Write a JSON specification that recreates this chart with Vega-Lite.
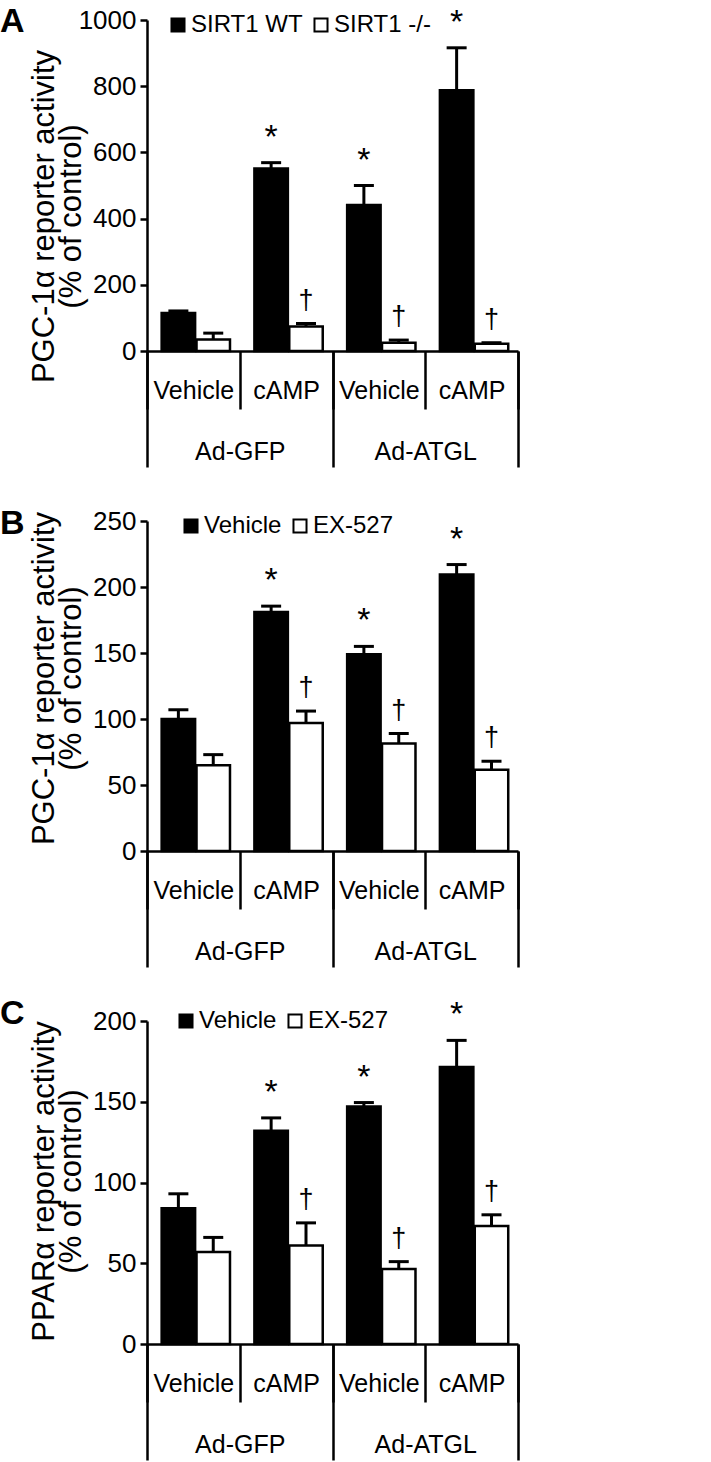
{
  "$schema": "https://vega.github.io/schema/vega-lite/v6.json",
  "background": "white",
  "padding": {"left": 0, "top": 4, "right": 5, "bottom": 2},
  "config": {"view": {"stroke": null}, "font": "Liberation Sans", "axis": {"grid": false}},
  "datasets": {
    "A": [
      {"adeno": "Ad-GFP", "grp": "Ad-GFP|Vehicle", "series": "SIRT1 WT", "value": 115, "upper": 121, "sig": ""},
      {"adeno": "Ad-GFP", "grp": "Ad-GFP|Vehicle", "series": "SIRT1 -/-", "value": 35, "upper": 54, "sig": ""},
      {"adeno": "Ad-GFP", "grp": "Ad-GFP|cAMP", "series": "SIRT1 WT", "value": 551, "upper": 569, "sig": "*"},
      {"adeno": "Ad-GFP", "grp": "Ad-GFP|cAMP", "series": "SIRT1 -/-", "value": 74, "upper": 83, "sig": "†"},
      {"adeno": "Ad-ATGL", "grp": "Ad-ATGL|Vehicle", "series": "SIRT1 WT", "value": 441, "upper": 500, "sig": "*"},
      {"adeno": "Ad-ATGL", "grp": "Ad-ATGL|Vehicle", "series": "SIRT1 -/-", "value": 25, "upper": 33, "sig": "†"},
      {"adeno": "Ad-ATGL", "grp": "Ad-ATGL|cAMP", "series": "SIRT1 WT", "value": 788, "upper": 916, "sig": "*"},
      {"adeno": "Ad-ATGL", "grp": "Ad-ATGL|cAMP", "series": "SIRT1 -/-", "value": 22, "upper": 25, "sig": "†"}
    ],
    "B": [
      {"adeno": "Ad-GFP", "grp": "Ad-GFP|Vehicle", "series": "Vehicle", "value": 100, "upper": 107, "sig": ""},
      {"adeno": "Ad-GFP", "grp": "Ad-GFP|Vehicle", "series": "EX-527", "value": 65, "upper": 73, "sig": ""},
      {"adeno": "Ad-GFP", "grp": "Ad-GFP|cAMP", "series": "Vehicle", "value": 181, "upper": 185.5, "sig": "*"},
      {"adeno": "Ad-GFP", "grp": "Ad-GFP|cAMP", "series": "EX-527", "value": 97, "upper": 106, "sig": "†"},
      {"adeno": "Ad-ATGL", "grp": "Ad-ATGL|Vehicle", "series": "Vehicle", "value": 149, "upper": 155, "sig": "*"},
      {"adeno": "Ad-ATGL", "grp": "Ad-ATGL|Vehicle", "series": "EX-527", "value": 81.5, "upper": 89, "sig": "†"},
      {"adeno": "Ad-ATGL", "grp": "Ad-ATGL|cAMP", "series": "Vehicle", "value": 209.5, "upper": 217, "sig": "*"},
      {"adeno": "Ad-ATGL", "grp": "Ad-ATGL|cAMP", "series": "EX-527", "value": 61.5, "upper": 68, "sig": "†"}
    ],
    "C": [
      {"adeno": "Ad-GFP", "grp": "Ad-GFP|Vehicle", "series": "Vehicle", "value": 84, "upper": 93, "sig": ""},
      {"adeno": "Ad-GFP", "grp": "Ad-GFP|Vehicle", "series": "EX-527", "value": 57, "upper": 66, "sig": ""},
      {"adeno": "Ad-GFP", "grp": "Ad-GFP|cAMP", "series": "Vehicle", "value": 132, "upper": 140, "sig": "*"},
      {"adeno": "Ad-GFP", "grp": "Ad-GFP|cAMP", "series": "EX-527", "value": 61, "upper": 75, "sig": "†"},
      {"adeno": "Ad-ATGL", "grp": "Ad-ATGL|Vehicle", "series": "Vehicle", "value": 147, "upper": 149.5, "sig": "*"},
      {"adeno": "Ad-ATGL", "grp": "Ad-ATGL|Vehicle", "series": "EX-527", "value": 46.5, "upper": 51, "sig": "†"},
      {"adeno": "Ad-ATGL", "grp": "Ad-ATGL|cAMP", "series": "Vehicle", "value": 171.5, "upper": 188, "sig": "*"},
      {"adeno": "Ad-ATGL", "grp": "Ad-ATGL|cAMP", "series": "EX-527", "value": 73, "upper": 80, "sig": "†"}
    ]
  },
  "spacing": 170,
  "bounds": "flush",
  "resolve": {
    "scale": {"x": "independent", "y": "independent", "xOffset": "independent", "fill": "independent"},
    "axis": {"x": "independent", "y": "independent"},
    "legend": {"fill": "independent"}
  },
  "vconcat": [
    {
      "title": {"text": "A", "anchor": "start", "frame": "group", "dx": -147, "offset": -33, "fontSize": 34, "fontWeight": "bold", "font": "Liberation Sans", "color": "black"},
      "width": 371, "height": 331,
      "data": {"name": "A"},
      "resolve": {"scale": {"x": "independent"}, "axis": {"x": "independent"}},
      "layer": [
        {
          "layer": [
            {
              "mark": {"type": "bar", "stroke": "black", "strokeWidth": 2.5},
              "encoding": {
                "x": {"field": "grp", "type": "nominal", "sort": null, "scale": {"type": "band", "paddingInner": 0, "paddingOuter": 0},
                  "axis": {"orient": "bottom", "title": null, "domain": true, "domainColor": "black", "domainWidth": 2.5, "ticks": true, "tickBand": "extent", "tickSize": 58, "tickWidth": 2.5, "tickColor": "black", "labelExpr": "split(datum.value, '|')[1]", "labelFont": "Liberation Sans", "labelFontSize": 25, "labelColor": "black", "labelBaseline": "middle", "labelPadding": -19, "labelAngle": 0, "labelFlush": false, "labelOverlap": false}},
                "xOffset": {"field": "series", "type": "nominal", "sort": null, "scale": {"paddingInner": 0.04, "paddingOuter": 0.35, "align": 0.6}},
                "y": {"field": "value", "type": "quantitative", "scale": {"domain": [0, 1000], "nice": false},
                  "axis": {"title": ["PGC-1α reporter activity", "(% of control)"], "values": [0, 200, 400, 600, 800, 1000], "format": "d", "domain": true, "domainColor": "black", "domainWidth": 2.5, "ticks": true, "tickSize": 7, "tickWidth": 2.5, "tickColor": "black", "labelFont": "Liberation Sans", "labelFontSize": 26, "labelColor": "black", "labelPadding": 4, "labelOverlap": false, "titleFont": "Liberation Sans", "titleFontSize": 31, "titleFontWeight": "normal", "titleColor": "black", "titleLineHeight": 27, "titleX": -87, "titleY": 196, "titleAngle": -90, "titleBaseline": "bottom", "titleAlign": "center"}},
                "fill": {"field": "series", "type": "nominal", "sort": null, "scale": {"domain": ["SIRT1 WT", "SIRT1 -/-"], "range": ["black", "white"]},
                  "legend": {"title": null, "orient": "none", "legendX": 19, "legendY": -7, "direction": "horizontal", "symbolType": "square", "symbolSize": 170, "symbolStrokeColor": "black", "symbolStrokeWidth": 2, "labelFont": "Liberation Sans", "labelFontSize": 24, "labelColor": "black", "labelOffset": 1, "columnPadding": 6, "padding": 0}}
              }
            },
            {
              "mark": {"type": "rule", "strokeWidth": 3, "color": "black"},
              "encoding": {
                "x": {"field": "grp", "type": "nominal", "sort": null},
                "xOffset": {"field": "series", "type": "nominal", "sort": null},
                "y": {"field": "value", "type": "quantitative"},
                "y2": {"field": "upper"}
              }
            },
            {
              "mark": {"type": "tick", "thickness": 3, "size": 20, "color": "black", "opacity": 1},
              "encoding": {
                "x": {"field": "grp", "type": "nominal", "sort": null},
                "xOffset": {"field": "series", "type": "nominal", "sort": null},
                "y": {"field": "upper", "type": "quantitative"}
              }
            },
            {
              "transform": [{"filter": "datum.series === 'SIRT1 WT'"}],
              "mark": {"type": "text", "font": "Liberation Sans", "fontSize": 34, "color": "black", "baseline": "alphabetic", "dy": -15},
              "encoding": {
                "x": {"field": "grp", "type": "nominal", "sort": null},
                "xOffset": {"field": "series", "type": "nominal", "sort": null},
                "y": {"field": "upper", "type": "quantitative"},
                "text": {"field": "sig"}
              }
            },
            {
              "transform": [{"filter": "datum.series === 'SIRT1 -/-'"}],
              "mark": {"type": "text", "font": "Liberation Sans", "fontSize": 27, "color": "black", "baseline": "alphabetic", "dy": -15},
              "encoding": {
                "x": {"field": "grp", "type": "nominal", "sort": null},
                "xOffset": {"field": "series", "type": "nominal", "sort": null},
                "y": {"field": "upper", "type": "quantitative"},
                "text": {"field": "sig"}
              }
            }
          ]
        },
        {
          "mark": {"type": "text", "opacity": 0},
          "encoding": {
            "x": {"field": "adeno", "type": "nominal", "sort": null, "scale": {"type": "band", "paddingInner": 0, "paddingOuter": 0},
              "axis": {"orient": "bottom", "title": null, "domain": false, "ticks": true, "tickBand": "extent", "tickSize": 116, "tickWidth": 2.5, "tickColor": "black", "labelFont": "Liberation Sans", "labelFontSize": 25, "labelColor": "black", "labelBaseline": "middle", "labelPadding": -16, "labelAngle": 0, "labelFlush": false, "labelOverlap": false}},
            "text": {"value": ""}
          }
        }
      ]
    },
    {
      "title": {"text": "B", "anchor": "start", "frame": "group", "dx": -147, "offset": -33, "fontSize": 34, "fontWeight": "bold", "font": "Liberation Sans", "color": "black"},
      "width": 371, "height": 330,
      "data": {"name": "B"},
      "resolve": {"scale": {"x": "independent"}, "axis": {"x": "independent"}},
      "layer": [
        {
          "layer": [
            {
              "mark": {"type": "bar", "stroke": "black", "strokeWidth": 2.5},
              "encoding": {
                "x": {"field": "grp", "type": "nominal", "sort": null, "scale": {"type": "band", "paddingInner": 0, "paddingOuter": 0},
                  "axis": {"orient": "bottom", "title": null, "domain": true, "domainColor": "black", "domainWidth": 2.5, "ticks": true, "tickBand": "extent", "tickSize": 58, "tickWidth": 2.5, "tickColor": "black", "labelExpr": "split(datum.value, '|')[1]", "labelFont": "Liberation Sans", "labelFontSize": 25, "labelColor": "black", "labelBaseline": "middle", "labelPadding": -19, "labelAngle": 0, "labelFlush": false, "labelOverlap": false}},
                "xOffset": {"field": "series", "type": "nominal", "sort": null, "scale": {"paddingInner": 0.04, "paddingOuter": 0.35, "align": 0.6}},
                "y": {"field": "value", "type": "quantitative", "scale": {"domain": [0, 250], "nice": false},
                  "axis": {"title": ["PGC-1α reporter activity", "(% of control)"], "values": [0, 50, 100, 150, 200, 250], "format": "d", "domain": true, "domainColor": "black", "domainWidth": 2.5, "ticks": true, "tickSize": 7, "tickWidth": 2.5, "tickColor": "black", "labelFont": "Liberation Sans", "labelFontSize": 26, "labelColor": "black", "labelPadding": 4, "labelOverlap": false, "titleFont": "Liberation Sans", "titleFontSize": 31, "titleFontWeight": "normal", "titleColor": "black", "titleLineHeight": 27, "titleX": -87, "titleY": 157, "titleAngle": -90, "titleBaseline": "bottom", "titleAlign": "center"}},
                "fill": {"field": "series", "type": "nominal", "sort": null, "scale": {"domain": ["Vehicle", "EX-527"], "range": ["black", "white"]},
                  "legend": {"title": null, "orient": "none", "legendX": 32, "legendY": -7, "direction": "horizontal", "symbolType": "square", "symbolSize": 170, "symbolStrokeColor": "black", "symbolStrokeWidth": 2, "labelFont": "Liberation Sans", "labelFontSize": 24, "labelColor": "black", "labelOffset": 1, "columnPadding": 6, "padding": 0}}
              }
            },
            {
              "mark": {"type": "rule", "strokeWidth": 3, "color": "black"},
              "encoding": {
                "x": {"field": "grp", "type": "nominal", "sort": null},
                "xOffset": {"field": "series", "type": "nominal", "sort": null},
                "y": {"field": "value", "type": "quantitative"},
                "y2": {"field": "upper"}
              }
            },
            {
              "mark": {"type": "tick", "thickness": 3, "size": 20, "color": "black", "opacity": 1},
              "encoding": {
                "x": {"field": "grp", "type": "nominal", "sort": null},
                "xOffset": {"field": "series", "type": "nominal", "sort": null},
                "y": {"field": "upper", "type": "quantitative"}
              }
            },
            {
              "transform": [{"filter": "datum.series === 'Vehicle'"}],
              "mark": {"type": "text", "font": "Liberation Sans", "fontSize": 34, "color": "black", "baseline": "alphabetic", "dy": -15},
              "encoding": {
                "x": {"field": "grp", "type": "nominal", "sort": null},
                "xOffset": {"field": "series", "type": "nominal", "sort": null},
                "y": {"field": "upper", "type": "quantitative"},
                "text": {"field": "sig"}
              }
            },
            {
              "transform": [{"filter": "datum.series === 'EX-527'"}],
              "mark": {"type": "text", "font": "Liberation Sans", "fontSize": 27, "color": "black", "baseline": "alphabetic", "dy": -15},
              "encoding": {
                "x": {"field": "grp", "type": "nominal", "sort": null},
                "xOffset": {"field": "series", "type": "nominal", "sort": null},
                "y": {"field": "upper", "type": "quantitative"},
                "text": {"field": "sig"}
              }
            }
          ]
        },
        {
          "mark": {"type": "text", "opacity": 0},
          "encoding": {
            "x": {"field": "adeno", "type": "nominal", "sort": null, "scale": {"type": "band", "paddingInner": 0, "paddingOuter": 0},
              "axis": {"orient": "bottom", "title": null, "domain": false, "ticks": true, "tickBand": "extent", "tickSize": 116, "tickWidth": 2.5, "tickColor": "black", "labelFont": "Liberation Sans", "labelFontSize": 25, "labelColor": "black", "labelBaseline": "middle", "labelPadding": -16, "labelAngle": 0, "labelFlush": false, "labelOverlap": false}},
            "text": {"value": ""}
          }
        }
      ]
    },
    {
      "title": {"text": "C", "anchor": "start", "frame": "group", "dx": -147, "offset": -33, "fontSize": 34, "fontWeight": "bold", "font": "Liberation Sans", "color": "black"},
      "width": 371, "height": 323,
      "data": {"name": "C"},
      "resolve": {"scale": {"x": "independent"}, "axis": {"x": "independent"}},
      "layer": [
        {
          "layer": [
            {
              "mark": {"type": "bar", "stroke": "black", "strokeWidth": 2.5},
              "encoding": {
                "x": {"field": "grp", "type": "nominal", "sort": null, "scale": {"type": "band", "paddingInner": 0, "paddingOuter": 0},
                  "axis": {"orient": "bottom", "title": null, "domain": true, "domainColor": "black", "domainWidth": 2.5, "ticks": true, "tickBand": "extent", "tickSize": 58, "tickWidth": 2.5, "tickColor": "black", "labelExpr": "split(datum.value, '|')[1]", "labelFont": "Liberation Sans", "labelFontSize": 25, "labelColor": "black", "labelBaseline": "middle", "labelPadding": -19, "labelAngle": 0, "labelFlush": false, "labelOverlap": false}},
                "xOffset": {"field": "series", "type": "nominal", "sort": null, "scale": {"paddingInner": 0.04, "paddingOuter": 0.35, "align": 0.6}},
                "y": {"field": "value", "type": "quantitative", "scale": {"domain": [0, 200], "nice": false},
                  "axis": {"title": ["PPARα reporter activity", "(% of control)"], "values": [0, 50, 100, 150, 200], "format": "d", "domain": true, "domainColor": "black", "domainWidth": 2.5, "ticks": true, "tickSize": 7, "tickWidth": 2.5, "tickColor": "black", "labelFont": "Liberation Sans", "labelFontSize": 26, "labelColor": "black", "labelPadding": 4, "labelOverlap": false, "titleFont": "Liberation Sans", "titleFontSize": 31, "titleFontWeight": "normal", "titleColor": "black", "titleLineHeight": 27, "titleX": -87, "titleY": 160, "titleAngle": -90, "titleBaseline": "bottom", "titleAlign": "center"}},
                "fill": {"field": "series", "type": "nominal", "sort": null, "scale": {"domain": ["Vehicle", "EX-527"], "range": ["black", "white"]},
                  "legend": {"title": null, "orient": "none", "legendX": 27, "legendY": -12, "direction": "horizontal", "symbolType": "square", "symbolSize": 170, "symbolStrokeColor": "black", "symbolStrokeWidth": 2, "labelFont": "Liberation Sans", "labelFontSize": 24, "labelColor": "black", "labelOffset": 1, "columnPadding": 6, "padding": 0}}
              }
            },
            {
              "mark": {"type": "rule", "strokeWidth": 3, "color": "black"},
              "encoding": {
                "x": {"field": "grp", "type": "nominal", "sort": null},
                "xOffset": {"field": "series", "type": "nominal", "sort": null},
                "y": {"field": "value", "type": "quantitative"},
                "y2": {"field": "upper"}
              }
            },
            {
              "mark": {"type": "tick", "thickness": 3, "size": 20, "color": "black", "opacity": 1},
              "encoding": {
                "x": {"field": "grp", "type": "nominal", "sort": null},
                "xOffset": {"field": "series", "type": "nominal", "sort": null},
                "y": {"field": "upper", "type": "quantitative"}
              }
            },
            {
              "transform": [{"filter": "datum.series === 'Vehicle'"}],
              "mark": {"type": "text", "font": "Liberation Sans", "fontSize": 34, "color": "black", "baseline": "alphabetic", "dy": -15},
              "encoding": {
                "x": {"field": "grp", "type": "nominal", "sort": null},
                "xOffset": {"field": "series", "type": "nominal", "sort": null},
                "y": {"field": "upper", "type": "quantitative"},
                "text": {"field": "sig"}
              }
            },
            {
              "transform": [{"filter": "datum.series === 'EX-527'"}],
              "mark": {"type": "text", "font": "Liberation Sans", "fontSize": 27, "color": "black", "baseline": "alphabetic", "dy": -15},
              "encoding": {
                "x": {"field": "grp", "type": "nominal", "sort": null},
                "xOffset": {"field": "series", "type": "nominal", "sort": null},
                "y": {"field": "upper", "type": "quantitative"},
                "text": {"field": "sig"}
              }
            }
          ]
        },
        {
          "mark": {"type": "text", "opacity": 0},
          "encoding": {
            "x": {"field": "adeno", "type": "nominal", "sort": null, "scale": {"type": "band", "paddingInner": 0, "paddingOuter": 0},
              "axis": {"orient": "bottom", "title": null, "domain": false, "ticks": true, "tickBand": "extent", "tickSize": 116, "tickWidth": 2.5, "tickColor": "black", "labelFont": "Liberation Sans", "labelFontSize": 25, "labelColor": "black", "labelBaseline": "middle", "labelPadding": -16, "labelAngle": 0, "labelFlush": false, "labelOverlap": false}},
            "text": {"value": ""}
          }
        }
      ]
    }
  ]
}
